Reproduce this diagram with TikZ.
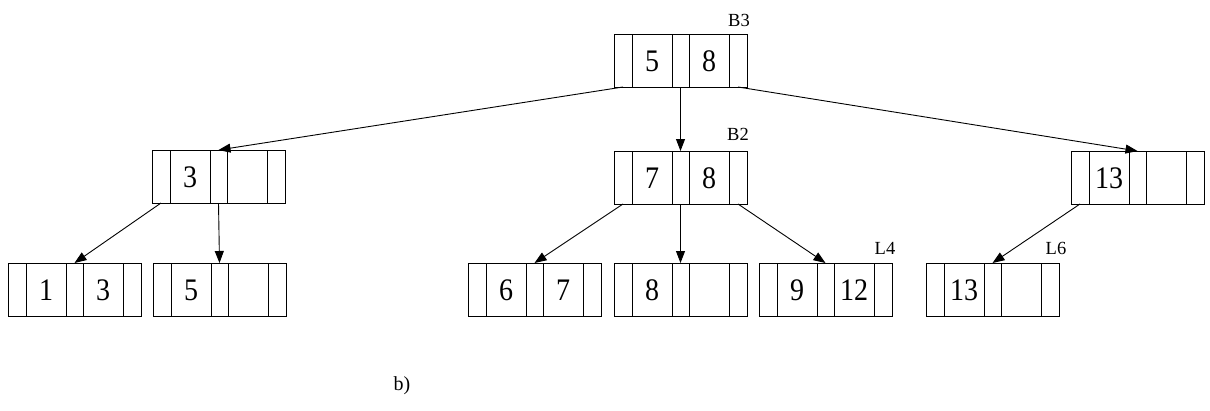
\documentclass[tikz,border=0pt]{standalone}
\usepackage{fontspec}
\setmainfont{Liberation Serif}
\usetikzlibrary{arrows.meta}

% One B+-tree page: pointer | key | pointer | key | pointer
% #1 name, #2/#3 top-left corner, #4/#5 keys
\newcommand{\bpnode}[5]{%
  \begin{scope}[shift={(#2,#3)}]
    \node[box, anchor=north west] (#1) at (0,0) {};
    \draw[divider] (18,0) -- (18,53) (58,0) -- (58,53)
                   (75,0) -- (75,53) (115,0) -- (115,53);
    \node[key] (#1-k1) at (38,27) {#4};
    \node[key] (#1-k2) at (95,27) {#5};
    \coordinate (#1-in) at (66.5,0);
    \coordinate (#1-p0) at (9,53);
    \coordinate (#1-p1) at (66.5,53);
    \coordinate (#1-p2) at (124,53);
  \end{scope}}

\begin{document}
\begin{tikzpicture}[x=1pt,y=-1pt,
  box/.style={draw, line width=0.9pt, minimum width=133pt, minimum height=53pt,
              inner sep=0pt, outer sep=0pt},
  divider/.style={line width=0.9pt},
  key/.style={font=\fontsize{28}{28}\selectfont, inner sep=0pt, yscale=1.12},
  tag/.style={font=\fontsize{18.5}{18.5}\selectfont, inner sep=0pt},
  ptr/.style={line width=0.9pt, -{Triangle[length=12pt,width=9pt]}}]
  \useasboundingbox[fill=white] (0,0) rectangle (1210,410);

  % root
  \bpnode{b3}{614}{34}{5}{8}
  % inner level
  \bpnode{n3}{152}{150}{3}{}
  \bpnode{b2}{614}{151}{7}{8}
  \bpnode{n13}{1071}{151}{13}{}
  % leaves
  \bpnode{l1}{8}{263}{1}{3}
  \bpnode{l2}{153}{263}{5}{}
  \bpnode{l3}{468}{263}{6}{7}
  \bpnode{l4}{614}{263}{8}{}
  \bpnode{l5}{759}{263}{9}{12}
  \bpnode{l6}{926}{263}{13}{}

  % page labels
  \node[tag] (tb3) at (739,20) {B3};
  \node[tag] (tb2) at (738,134) {B2};
  \node[tag] (tl4) at (885,248) {L4};
  \node[tag] (tl6) at (1056,248) {L6};
  \node[font=\fontsize{20}{20}\selectfont, inner sep=0pt] (cap) at (402,386) {b)};

  % child pointers
  \draw[ptr] (b3-p0) -- (n3-in);
  \draw[ptr] (b3-p1) -- (b2-in);
  \draw[ptr] (b3-p2) -- (n13-in);
  \draw[ptr] (n3-p0) -- (l1-in);
  \draw[ptr] (n3-p1) -- (l2-in);
  \draw[ptr] (b2-p0) -- (l3-in);
  \draw[ptr] (b2-p1) -- (l4-in);
  \draw[ptr] (b2-p2) -- (l5-in);
  \draw[ptr] (n13-p0) -- (l6-in);
\end{tikzpicture}
\end{document}
